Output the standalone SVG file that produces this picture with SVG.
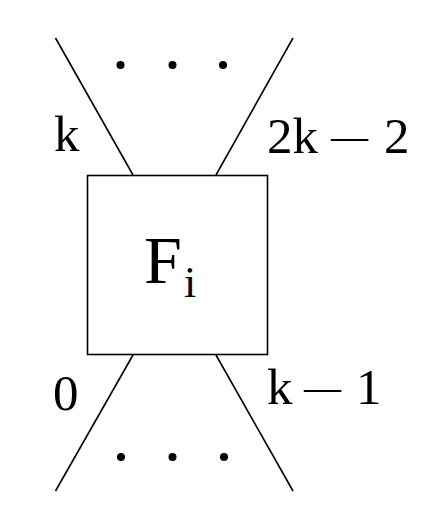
<svg xmlns="http://www.w3.org/2000/svg" width="429" height="519" viewBox="0 0 429 519">
<style>
.ln{stroke:#000;stroke-width:1.6;fill:none}
.t{font-family:"Liberation Serif","Times New Roman",serif;font-size:51px;fill:#000}
.big{font-size:68px}
.sub{font-size:44px}
.dash{font-size:37px}
</style>
<rect width="429" height="519" fill="#fff"/>
<g id="connectors">
<line class="ln" x1="55.5" y1="38" x2="133" y2="175"/>
<line class="ln" x1="293" y1="38" x2="216" y2="175"/>
<line class="ln" x1="133" y1="355" x2="55.5" y2="491"/>
<line class="ln" x1="216" y1="355" x2="293" y2="491"/>
</g>
<g id="box">
<rect class="ln" x="87.5" y="175.5" width="180" height="179"/>
<text class="t big" x="144" y="283">F<tspan class="sub" x="184" y="297">i</tspan></text>
</g>
<g id="dots-top">
<circle cx="120.5" cy="65" r="4"/>
<circle cx="172.5" cy="65" r="4"/>
<circle cx="223" cy="65" r="4"/>
</g>
<g id="dots-bottom">
<circle cx="121" cy="457" r="4"/>
<circle cx="172.5" cy="457" r="4"/>
<circle cx="224" cy="457" r="4"/>
</g>
<g id="labels">
<text class="t" x="54" y="151">k</text>
<text class="t" x="267" y="153">2k<tspan class="dash" x="331" y="149">—</tspan><tspan x="384" y="153">2</tspan></text>
<text class="t" x="53" y="410">0</text>
<text class="t" x="267" y="404">k<tspan class="dash" x="304" y="400">—</tspan><tspan x="356" y="404">1</tspan></text>
</g>
</svg>
